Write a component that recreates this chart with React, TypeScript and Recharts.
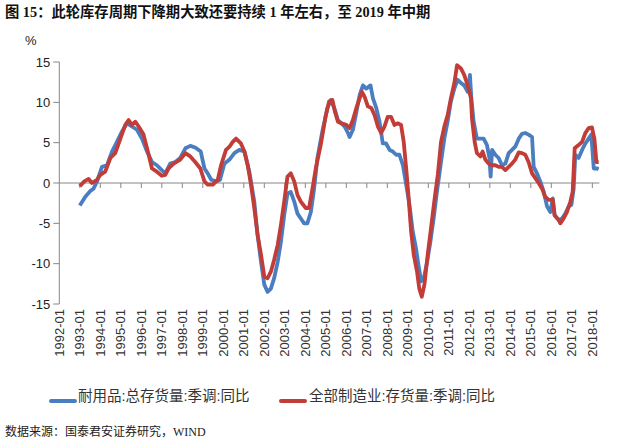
import React from "react";
import { LineChart, Line, XAxis, YAxis, ReferenceLine } from "recharts";

// 耐用品:总存货量:季调:同比 (time in decimal years, value %)
const durableT = [
  1993.0, 1993.27, 1993.51, 1993.67, 1993.84, 1994.08, 1994.33, 1994.57, 1994.81, 1995.06,
  1995.3, 1995.54, 1995.79, 1996.03, 1996.28, 1996.52, 1996.76, 1997.0, 1997.17, 1997.41,
  1997.66, 1997.9, 1998.15, 1998.39, 1998.63, 1998.9, 1999.08, 1999.24, 1999.41, 1999.65,
  1999.84, 2000.05, 2000.3, 2000.54, 2000.78, 2001.03, 2001.27, 2001.51, 2001.67, 2001.84,
  2002.0, 2002.16, 2002.32, 2002.48, 2002.65, 2002.81, 2002.97, 2003.13, 2003.29, 2003.46,
  2003.62, 2003.78, 2003.94, 2004.1, 2004.27, 2004.43, 2004.59, 2004.83, 2005.08, 2005.25,
  2005.45, 2005.59, 2005.76, 2005.92, 2006.08, 2006.16, 2006.32, 2006.49, 2006.65, 2006.81,
  2006.97, 2007.18, 2007.3, 2007.46, 2007.62, 2007.78, 2007.94, 2008.11, 2008.27, 2008.43,
  2008.59, 2008.76, 2008.92, 2009.08, 2009.24, 2009.4, 2009.52, 2009.65, 2009.78, 2009.94,
  2010.1, 2010.26, 2010.42, 2010.62, 2010.78, 2010.94, 2011.1, 2011.27, 2011.43, 2011.59,
  2011.75, 2011.92, 2012.03, 2012.1, 2012.21, 2012.37, 2012.54, 2012.7, 2012.86, 2012.98,
  2013.04, 2013.11, 2013.27, 2013.43, 2013.59, 2013.76, 2013.92, 2014.08, 2014.24, 2014.41,
  2014.57, 2014.73, 2014.89, 2015.06, 2015.14, 2015.3, 2015.46, 2015.63, 2015.79, 2015.95,
  2016.07, 2016.16, 2016.36, 2016.52, 2016.68, 2016.85, 2016.98, 2017.09, 2017.17, 2017.33,
  2017.5, 2017.66, 2017.82, 2017.95, 2018.07, 2018.23, 2018.31,
];
const durableV = [
  -2.8, -1.7, -1.0, -0.7, 0.2, 2.0, 2.2, 3.9, 5.1, 6.4,
  7.4, 7.0, 6.6, 5.5, 3.9, 2.6, 2.2, 1.6, 1.2, 2.4,
  2.6, 3.1, 4.3, 4.6, 4.4, 3.9, 1.8, 1.2, 0.4, 0.2,
  0.4, 2.4, 2.9, 3.7, 4.1, 3.9, 1.4, -2.3, -6.4, -9.8,
  -12.6, -13.5, -13.1, -11.8, -9.8, -7.3, -4.0, -1.3, -1.1, -2.3,
  -3.8, -4.4, -5.0, -5.0, -3.6, -0.7, 3.1, 6.4, 9.3, 10.3,
  9.0, 7.8, 7.4, 7.0, 6.2, 5.7, 6.6, 8.8, 10.9, 12.1,
  11.7, 12.1, 10.5, 9.3, 7.6, 4.9, 4.9, 4.1, 3.9, 3.5,
  3.5, 2.2, -0.2, -2.7, -6.0, -8.1, -10.2, -12.2, -11.8, -9.8,
  -7.3, -4.4, -1.1, 2.6, 5.5, 7.6, 10.1, 11.7, 12.8, 12.4,
  12.1, 11.3, 13.4, 10.5, 7.6, 5.5, 5.5, 5.5, 4.7, 3.1,
  0.8, 4.1, 3.5, 3.1, 2.2, 2.4, 3.7, 4.1, 4.5, 5.5,
  6.1, 6.2, 6.0, 5.7, 2.0, 1.2, 0.2, -1.1, -2.9, -3.6,
  -1.9, -4.0, -4.6, -4.4, -3.8, -2.9, -2.7, -0.7, 3.5, 3.1,
  4.1, 4.9, 5.5, 6.0, 1.8, 1.8, 1.7,
];

// 全部制造业:存货量:季调:同比
const mfgT = [
  1993.0, 1993.22, 1993.43, 1993.59, 1993.84, 1994.0, 1994.24, 1994.49, 1994.73, 1994.98,
  1995.22, 1995.38, 1995.54, 1995.71, 1995.87, 1996.11, 1996.36, 1996.52, 1996.76, 1997.0,
  1997.17, 1997.33, 1997.58, 1997.9, 1998.15, 1998.39, 1998.63, 1998.88, 1999.08, 1999.24,
  1999.49, 1999.73, 1999.89, 2000.13, 2000.3, 2000.46, 2000.62, 2000.86, 2001.03, 2001.19,
  2001.35, 2001.51, 2001.67, 2001.84, 2002.0, 2002.16, 2002.32, 2002.48, 2002.65, 2002.81,
  2002.97, 2003.13, 2003.29, 2003.46, 2003.62, 2003.78, 2004.02, 2004.18, 2004.35, 2004.51,
  2004.75, 2005.0, 2005.16, 2005.32, 2005.45, 2005.59, 2005.76, 2006.0, 2006.16, 2006.32,
  2006.49, 2006.65, 2006.76, 2006.89, 2007.05, 2007.22, 2007.38, 2007.54, 2007.7, 2007.86,
  2008.02, 2008.18, 2008.35, 2008.51, 2008.67, 2008.8, 2008.92, 2009.03, 2009.16, 2009.29,
  2009.45, 2009.56, 2009.68, 2009.81, 2009.97, 2010.13, 2010.29, 2010.46, 2010.62, 2010.78,
  2010.94, 2011.1, 2011.27, 2011.4, 2011.59, 2011.75, 2011.92, 2012.08, 2012.13, 2012.26,
  2012.37, 2012.54, 2012.65, 2012.78, 2012.94, 2013.11, 2013.27, 2013.43, 2013.59, 2013.76,
  2013.92, 2014.08, 2014.24, 2014.41, 2014.57, 2014.73, 2014.89, 2015.06, 2015.22, 2015.38,
  2015.55, 2015.7, 2015.87, 2016.07, 2016.16, 2016.36, 2016.44, 2016.6, 2016.76, 2016.93,
  2017.04, 2017.14, 2017.33, 2017.5, 2017.66, 2017.82, 2017.98, 2018.1, 2018.2, 2018.31,
];
const mfgV = [
  -0.4, 0.2, 0.5, 0.0, 0.4, 1.0, 1.4, 3.1, 3.7, 5.5,
  7.2, 7.8, 7.2, 7.6, 7.0, 6.0, 3.5, 1.8, 1.4, 0.9,
  1.0, 1.8, 2.4, 2.9, 3.7, 3.3, 2.6, 1.8, 0.2, -0.2,
  -0.2, 0.4, 2.2, 4.1, 4.5, 5.1, 5.5, 4.9, 3.9, 2.2,
  -0.2, -3.1, -6.4, -8.9, -11.6, -11.8, -11.0, -9.5, -7.7, -5.2,
  -2.3, 0.8, 1.2, 0.2, -1.5, -2.3, -3.1, -3.1, -0.7, 1.8,
  4.7, 8.4, 10.1, 10.3, 8.8, 7.6, 7.4, 7.2, 6.8, 7.8,
  9.3, 10.5, 11.3, 10.7, 9.5, 9.3, 8.4, 7.0, 6.2, 7.0,
  8.2, 8.2, 7.2, 7.4, 7.2, 5.1, 1.8, -1.5, -6.0, -8.9,
  -11.0, -13.1, -14.1, -12.6, -8.9, -5.6, -2.3, 1.0, 5.1, 7.0,
  8.4, 10.5, 12.4, 14.6, 14.2, 13.4, 12.1, 10.5, 8.0, 5.1,
  3.7, 3.3, 3.9, 2.9, 2.4, 2.2, 2.2, 2.0, 2.0, 1.6,
  2.0, 2.4, 2.9, 3.8, 3.7, 3.5, 2.6, 1.2, 0.6, 0.0,
  -0.7, -1.7, -2.1, -2.1, -4.0, -4.6, -5.0, -4.4, -3.6, -2.3,
  -1.1, 4.3, 4.7, 5.1, 6.2, 6.8, 6.9, 5.5, 2.6, 2.6,
];

const tickYears = [
  1992, 1993, 1994, 1995, 1996, 1997, 1998, 1999, 2000, 2001, 2002, 2003, 2004, 2005,
  2006, 2007, 2008, 2009, 2010, 2011, 2012, 2013, 2014, 2015, 2016, 2017, 2018,
];
const yTicks = [-15, -10, -5, 0, 5, 10, 15];

const seriesNames = ["耐用品:总存货量:季调:同比", "全部制造业:存货量:季调:同比"];
const colors = ["#4A7EC0", "#C23C38"];

type Row = { t: number; a?: number | null; b?: number | null };
const rowsMap = new Map<number, Row>();
durableT.forEach((t, i) => {
  const r = rowsMap.get(t) || { t };
  r.a = durableV[i];
  rowsMap.set(t, r);
});
mfgT.forEach((t, i) => {
  const r = rowsMap.get(t) || { t };
  r.b = mfgV[i];
  rowsMap.set(t, r);
});
const data = Array.from(rowsMap.values()).sort((x, y) => x.t - y.t);

const axisGray = "#868686";
const sansFont = '"Liberation Sans", Arial, sans-serif';
const cjkFont = '"Liberation Sans", "Noto Sans CJK SC", sans-serif';

const XTick = (props: any) => {
  const { x, y, payload } = props;
  return (
    <g transform={`translate(${x},${y})`}>
      <text
        transform="rotate(-90)"
        textAnchor="end"
        dy="0.35em"
        fontSize={13}
        fontFamily={sansFont}
        fill="#333"
      >
        {`${payload.value}-01`}
      </text>
    </g>
  );
};

export default function App() {
  return (
    <div
      style={{
        position: "absolute",
        left: 0,
        top: 0,
        width: 621,
        height: 447,
        background: "#fff",
        overflow: "hidden",
      }}
    >
      <div
        style={{
          position: "absolute",
          left: 5,
          top: 3,
          fontSize: 14.3,
          fontWeight: "bold",
          fontFamily: '"Liberation Serif", "Noto Sans CJK SC", serif',
          color: "#111",
          whiteSpace: "nowrap",
          lineHeight: "18px",
        }}
      >
        图 15：此轮库存周期下降期大致还要持续 1 年左右，至 2019 年中期
      </div>
      <div
        style={{
          position: "absolute",
          left: 25,
          top: 33,
          fontSize: 13,
          fontFamily: sansFont,
          color: "#222",
          lineHeight: "16px",
        }}
      >
        %
      </div>
      <div style={{ position: "absolute", left: 0, top: 0 }}>
        <LineChart
          width={621}
          height={447}
          data={data}
          margin={{ top: 62, right: 21.7, left: 9.3, bottom: 83 }}
        >
          <XAxis
            dataKey="t"
            type="number"
            domain={[1992, 2018.34]}
            ticks={tickYears}
            interval={0}
            allowDataOverflow
            axisLine={false}
            tickLine={false}
            tickSize={0}
            tickMargin={5}
            height={60}
            tick={<XTick />}
          />
          <YAxis
            type="number"
            domain={[-15, 15]}
            ticks={yTicks}
            interval={0}
            width={50}
            axisLine={{ stroke: axisGray }}
            tickLine={{ stroke: axisGray }}
            tickSize={6}
            tickMargin={3}
            tick={{ fontSize: 13, fill: "#222", fontFamily: sansFont }}
          />
          <ReferenceLine y={0} stroke={axisGray} strokeWidth={1} />
          {tickYears.slice(1).map((yr) => (
            <ReferenceLine
              key={yr}
              segment={[
                { x: yr, y: 0 },
                { x: yr, y: -0.62 },
              ]}
              stroke={axisGray}
              strokeWidth={1}
            />
          ))}
          <Line
            type="linear"
            dataKey="a"
            name={seriesNames[0]}
            stroke={colors[0]}
            strokeWidth={3.8}
            dot={false}
            activeDot={false}
            connectNulls
            isAnimationActive={false}
            strokeLinejoin="round"
          />
          <Line
            type="linear"
            dataKey="b"
            name={seriesNames[1]}
            stroke={colors[1]}
            strokeWidth={3.8}
            dot={false}
            activeDot={false}
            connectNulls
            isAnimationActive={false}
            strokeLinejoin="round"
          />
        </LineChart>
      </div>
      {[
        { lineX: 49, textX: 78 },
        { lineX: 279, textX: 309 },
      ].map((pos, i) => (
        <React.Fragment key={i}>
          <div
            style={{
              position: "absolute",
              left: pos.lineX,
              top: 399,
              width: 28,
              height: 4,
              background: colors[i],
              borderRadius: 2,
            }}
          />
          <div
            style={{
              position: "absolute",
              left: pos.textX,
              top: 387,
              fontSize: 14.5,
              fontFamily: cjkFont,
              color: "#333",
              whiteSpace: "nowrap",
              lineHeight: "18px",
            }}
          >
            {seriesNames[i]}
          </div>
        </React.Fragment>
      ))}
      <div
        style={{
          position: "absolute",
          left: 5,
          top: 424,
          fontSize: 12,
          fontFamily: '"Liberation Serif", "Noto Sans CJK SC", serif',
          color: "#222",
          whiteSpace: "nowrap",
          lineHeight: "16px",
        }}
      >
        数据来源：国泰君安证券研究，WIND
      </div>
    </div>
  );
}
